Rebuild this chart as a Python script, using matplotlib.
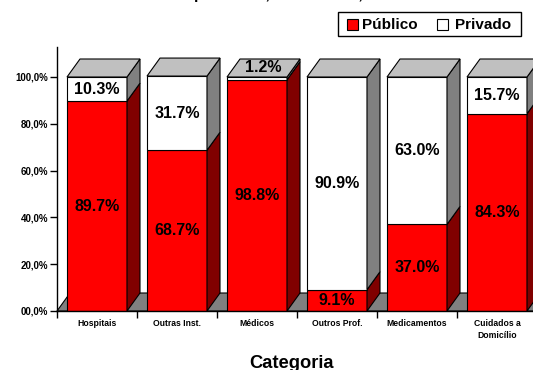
import matplotlib
matplotlib.use("Agg")
import matplotlib.pyplot as plt
from matplotlib.patches import Polygon, Rectangle

categories = ["Hospitais", "Outras Inst.", "Médicos", "Outros Prof.", "Medicamentos", "Cuidados a\nDomicílio"]
publico = [89.7, 68.7, 98.8, 9.1, 37.0, 84.3]
privado = [10.3, 31.7, 1.2, 90.9, 63.0, 15.7]
series_names = ["Público", "Privado"]
y_ticks = [0, 20, 40, 60, 80, 100]
y_ticklabels = ["00,0%", "20,0%", "40,0%", "60,0%", "80,0%", "100,0%"]

FONT = "Liberation Sans"
plt.rcParams["font.family"] = [FONT, "DejaVu Sans"]

W, H = 533, 370
fig = plt.figure(figsize=(W / 100, H / 100), dpi=100)
fig.patch.set_facecolor("white")

# axes geometry in pixels
ax_left_px, ax_right_px = 57, 537
ax_bottom_px, ax_top_px = 311, 47
ax = fig.add_axes([ax_left_px / W, (H - ax_bottom_px) / H,
                   (ax_right_px - ax_left_px) / W, (ax_bottom_px - ax_top_px) / H])
n = len(categories)
px_per_unit_x = (ax_right_px - ax_left_px) / n
px_per_pct = 2.34
ymax = (ax_bottom_px - ax_top_px) / px_per_pct
ax.set_xlim(-0.5, n - 0.5)
ax.set_ylim(0, ymax)
ax.set_facecolor("none")

dx = 13 / px_per_unit_x
dy = 18 / px_per_pct
bw = 0.75

edge = "black"
lw = 0.8
colors = {
    "Público": ("#FF0000", "#800000", "#800000"),
    "Privado": ("#FFFFFF", "#808080", "#C0C0C0"),
}

# floor
floor = Polygon([(-0.5, 0), (n - 0.5, 0), (n - 0.5 + dx, dy), (-0.5 + dx, dy)],
                closed=True, facecolor="#808080", edgecolor=edge, lw=lw, zorder=1, clip_on=False)
ax.add_patch(floor)

label_kw = dict(ha="center", va="center", fontsize=11.5, fontweight="bold", color="black", zorder=10)

for i in range(n):
    xl = i - bw / 2
    xr = i + bw / 2
    segs = [("Público", 0, publico[i]), ("Privado", publico[i], publico[i] + privado[i])]
    for k, (name, y0, y1) in enumerate(segs):
        front_c, side_c, top_c = colors[name]
        ax.add_patch(Rectangle((xl, y0), bw, y1 - y0, facecolor=front_c, edgecolor=edge, lw=lw, zorder=3))
        ax.add_patch(Polygon([(xr, y0), (xr + dx, y0 + dy), (xr + dx, y1 + dy), (xr, y1)],
                             closed=True, facecolor=side_c, edgecolor=edge, lw=lw, zorder=3))
        if k == len(segs) - 1:
            ax.add_patch(Polygon([(xl, y1), (xl + dx, y1 + dy), (xr + dx, y1 + dy), (xr, y1)],
                                 closed=True, facecolor=top_c, edgecolor=edge, lw=lw, zorder=3))
        val = y1 - y0
        if k == len(segs) - 1 and val < 5:
            ax.text(i + dx / 2, y1 + dy / 2, f"{val:.1f}%", **label_kw)
        else:
            ax.text(i, (y0 + y1) / 2, f"{val:.1f}%", **label_kw)

# spines
for s in ["top", "right"]:
    ax.spines[s].set_visible(False)
ax.spines["left"].set_linewidth(1.0)
ax.spines["bottom"].set_linewidth(1.0)
ax.spines["left"].set_zorder(5)
ax.spines["bottom"].set_zorder(5)

ax.set_yticks(y_ticks)
ax.set_yticklabels(y_ticklabels, fontsize=7, fontweight="bold")
ax.tick_params(axis="y", length=5, width=1, pad=1.5, direction="out")

ax.set_xticks(range(n))
ax.set_xticklabels(categories, fontsize=6.2, fontweight="bold", linespacing=1.45)
ax.set_xticks([i - 0.5 for i in range(n + 1)], minor=True)
ax.tick_params(axis="x", which="major", length=0, pad=6)
ax.tick_params(axis="x", which="minor", length=5, width=1, direction="out")
for t in ax.get_xticklabels():
    t.set_va("top")

# axis title
fig.text(292 / W, 1 - 363 / H, "Categoria", ha="center", va="center",
         fontsize=13.2, fontweight="bold")

# chart title (mostly outside the visible area in the reference)
fig.text(284 / W, 1 + 1 / H, "Despesa Real, Saúde 2000, Total", ha="center", va="baseline",
         fontsize=11, fontweight="bold")

# legend
def px_rect(x0, y0, x1, y1, **kw):
    r = Rectangle((x0 / W, 1 - y1 / H), (x1 - x0) / W, (y1 - y0) / H,
                  transform=fig.transFigure, **kw)
    fig.add_artist(r)

px_rect(338, 12, 521, 36, facecolor="white", edgecolor="black", lw=1.0)
px_rect(347, 19, 358, 30, facecolor=colors["Público"][0], edgecolor="black", lw=0.8)
px_rect(437, 19, 448, 30, facecolor=colors["Privado"][0], edgecolor="black", lw=0.8)
fig.text(362 / W, 1 - 25 / H, series_names[0], ha="left", va="center", fontsize=11, fontweight="bold")
fig.text(455 / W, 1 - 25 / H, series_names[1], ha="left", va="center", fontsize=11, fontweight="bold")

fig.savefig("out.png", dpi=100, facecolor="white")
